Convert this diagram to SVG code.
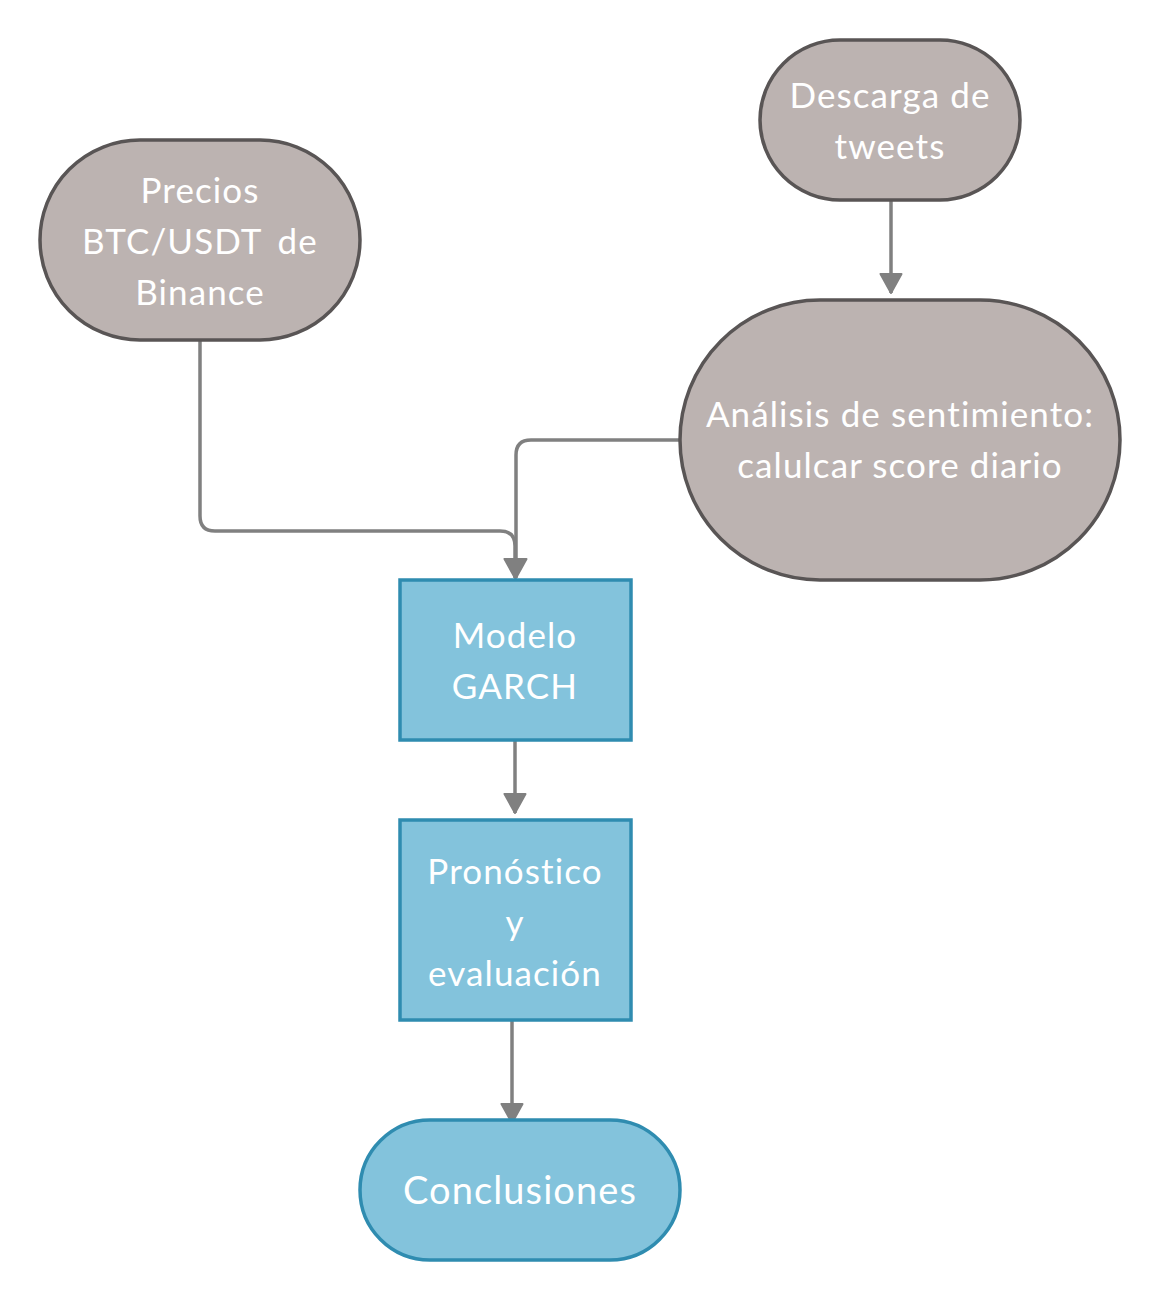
<svg xmlns="http://www.w3.org/2000/svg" width="1160" height="1300" viewBox="0 0 1160 1300">
<defs>
<style>
.g{fill:#bcb3b1;stroke:#595555;stroke-width:3.5}
.b{fill:#83c3dc;stroke:#2f8cb0;stroke-width:3.5}
.t{fill:#ffffff;font-family:Lato,"Liberation Sans",sans-serif;font-size:35px;letter-spacing:1.1px;text-anchor:middle}
.c{fill:none;stroke:#808080;stroke-width:3.5}
</style>
<marker id="arr" markerUnits="userSpaceOnUse" markerWidth="30" markerHeight="24" refX="20" refY="12" orient="auto">
<path d="M1,1.5 L20,12 L1,22.5 Z" fill="#808080" stroke="#808080" stroke-width="2" stroke-linejoin="round"/>
</marker>
</defs>
<rect width="1160" height="1300" fill="#ffffff"/>
<g id="connectors">
<path class="c" d="M200,340 L200,516 Q200,531 215,531 L500,531 Q515,531 515,546 L515,578" marker-end="url(#arr)"/>
<path class="c" d="M680,440 L531,440 Q516,440 516,455 L516,578" marker-end="url(#arr)"/>
<path class="c" d="M891,200 L891,293" marker-end="url(#arr)"/>
<path class="c" d="M515,740 L515,813" marker-end="url(#arr)"/>
<path class="c" d="M512,1020 L512,1123" marker-end="url(#arr)"/>
</g>
<g id="precios">
<rect class="g" x="40" y="140" width="320" height="200" rx="100" ry="100"/>
<text class="t" x="200" y="203">Precios</text>
<text class="t" x="200" y="254" word-spacing="6">BTC/USDT de</text>
<text class="t" x="200" y="305">Binance</text>
</g>
<g id="descarga">
<rect class="g" x="760" y="40" width="260" height="160" rx="80" ry="80"/>
<text class="t" x="890" y="108">Descarga de</text>
<text class="t" x="890" y="159">tweets</text>
</g>
<g id="analisis">
<rect class="g" x="680" y="300" width="440" height="280" rx="140" ry="140"/>
<text class="t" x="900" y="427">Análisis de sentimiento:</text>
<text class="t" x="900" y="478">calulcar score diario</text>
</g>
<g id="garch">
<rect class="b" x="400" y="580" width="231" height="160"/>
<text class="t" x="515" y="648">Modelo</text>
<text class="t" x="515" y="699">GARCH</text>
</g>
<g id="pronostico">
<rect class="b" x="400" y="820" width="231" height="200"/>
<text class="t" x="515" y="884">Pronóstico</text>
<text class="t" x="515" y="935">y</text>
<text class="t" x="515" y="986">evaluación</text>
</g>
<g id="conclusiones">
<rect class="b" x="360" y="1120" width="320" height="140" rx="70" ry="70"/>
<text class="t" x="520" y="1204" style="font-size:38px">Conclusiones</text>
</g>
</svg>
